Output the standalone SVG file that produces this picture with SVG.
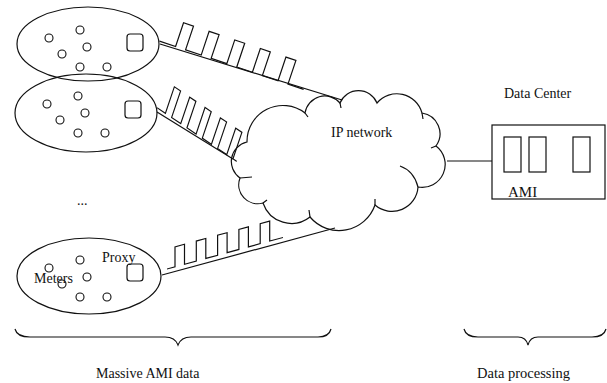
<svg xmlns="http://www.w3.org/2000/svg" width="607" height="383" viewBox="0 0 607 383">
<style>
.s{fill:none;stroke:#111;stroke-width:1.2}
.m{fill:none;stroke:#111;stroke-width:1.1}
.t{font-family:"Liberation Serif","Times New Roman",serif;fill:#111}
</style>
<defs>
<g id="meters">
<circle class="m" cx="0" cy="0" r="4"/>
<circle class="m" cx="31" cy="-8" r="4"/>
<circle class="m" cx="38" cy="9" r="4"/>
<circle class="m" cx="13" cy="16" r="4"/>
<circle class="m" cx="31" cy="29" r="4"/>
<circle class="m" cx="58" cy="29" r="4"/>
</g>
</defs>
<rect width="607" height="383" fill="#fff"/>

<g id="group1">
<ellipse class="s" cx="88" cy="44" rx="71" ry="37"/>
<use href="#meters" x="49" y="38"/>
<rect class="s" x="127" y="34" width="16" height="17" rx="3"/>
</g>

<g id="group2">
<ellipse class="s" cx="86" cy="113" rx="71" ry="39"/>
<use href="#meters" x="47" y="104"/>
<rect class="s" x="125" y="101" width="16" height="17" rx="3"/>
</g>

<g id="group3">
<ellipse class="s" cx="89" cy="276" rx="72" ry="38"/>
<use href="#meters" x="49" y="268"/>
<rect class="s" x="127" y="264" width="16" height="17" rx="3"/>
<text class="t" x="102" y="262" font-size="14">Proxy</text>
<text class="t" x="34" y="283" font-size="14">Meters</text>
</g>

<text class="t" x="77" y="205" font-size="14">...</text>

<g id="cloud">
<path class="s" d="M247,142 A36,36 0 0 1 305,113 A20,20 0 0 1 340,103 A20,20 0 0 1 377,103 A26,26 0 0 1 422,113 A21,21 0 0 1 436,146 A23,23 0 0 1 418,187 A26,26 0 0 1 375,205 A38,38 0 0 1 310,217 A30,30 0 0 1 263,203 A19,19 0 0 1 240,178 A20,20 0 0 1 247,142 Z"/>
<path class="s" d="M305,113 l3,4 M340,103 l1,5 M422,113 l1,6 M436,146 l-5,2 M400,166 Q414,171 418,187 M375,205 l0,-6 M310,217 l-1,-7 M263,203 l4,-3 M240,178 l12,-1"/>
<text class="t" x="331" y="137" font-size="14">IP network</text>
</g>

<g id="datacenter">
<text class="t" x="504" y="98" font-size="14">Data Center</text>
<rect class="s" x="492" y="125" width="113" height="74"/>
<rect class="s" x="504" y="137" width="17" height="35"/>
<rect class="s" x="529" y="137" width="17" height="35"/>
<rect class="s" x="573" y="137" width="17" height="35"/>
<text class="t" x="508" y="197" font-size="15">AMI</text>
</g>

<g id="connectors">
<line class="s" x1="160" y1="44" x2="342" y2="100"/>
<path class="s" transform="translate(175.6,46.5) rotate(18.5)" d="M-17,0 H0 V-25 H10.5 V0 H27 V-25 H37.5 V0 H54 V-25 H64.5 V0 H81 V-25 H91.5 V0 H108 V-25 H118.5 V0 H135"/>
<line class="s" x1="157" y1="112" x2="233" y2="159"/>
<path class="s" transform="matrix(0.829,0.559,-0.32,0.947,165.4,113.3)" d="M-10,0 H0 V-28 H7.5 V0 H18.5 V-28 H26 V0 H37 V-28 H44.5 V0 H55.5 V-28 H63 V0 H74 V-28 H81.5 V0 H86"/>
<line class="s" x1="162" y1="275" x2="335" y2="228"/>
<path class="s" transform="translate(167,269) skewY(-15.2)" d="M0,0 H8 V-20 H17.5 V0 H29.3 V-20 H38.8 V0 H50.6 V-20 H60.1 V0 H71.9 V-20 H81.4 V0 H93.2 V-20 H102.7 V0 H116"/>
<line class="s" x1="447" y1="161" x2="492" y2="161"/>
</g>

<g id="braces">
<path class="s" d="M15,329 Q17,337 30,337 H165 Q175,337 178,345 Q181,337 191,337 H318 Q329,337 331,329"/>
<path class="s" d="M464,329 Q466,337 478,337 H518 Q526,337 528,345 Q530,337 538,337 H592 Q604,337 606,329"/>
<text class="t" x="96" y="378" font-size="14">Massive AMI data</text>
<text class="t" x="477" y="378" font-size="14.5">Data processing</text>
</g>
</svg>
